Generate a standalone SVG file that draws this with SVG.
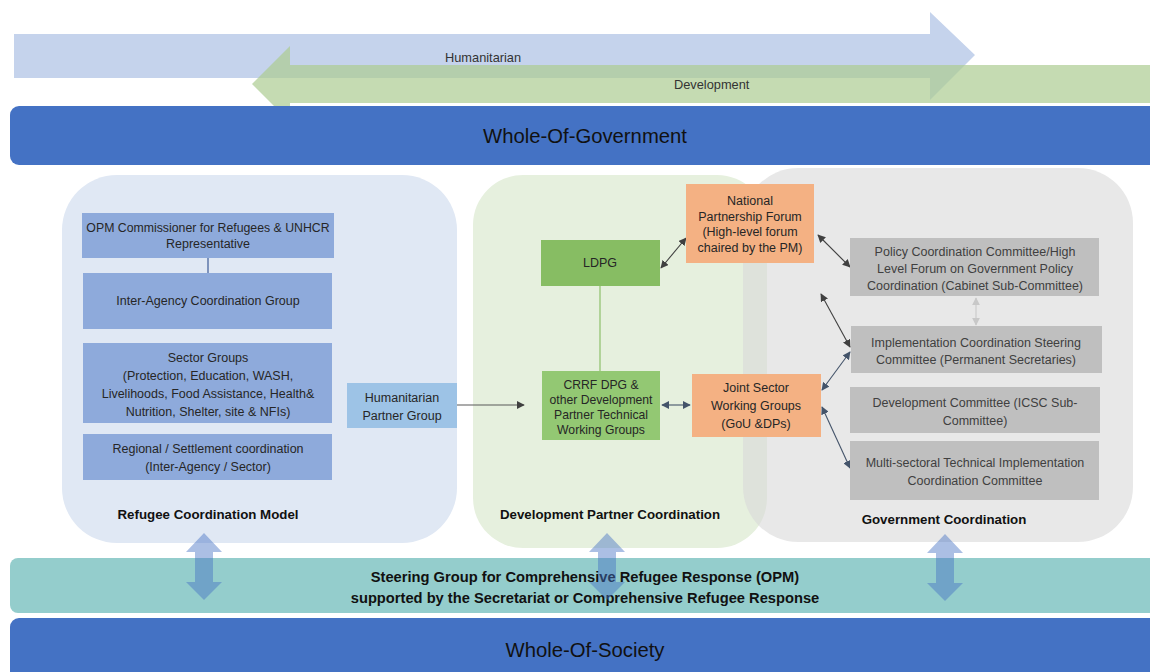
<svg xmlns="http://www.w3.org/2000/svg" width="1150" height="672" viewBox="0 0 1150 672">
<defs>
<style>
text{font-family:"Liberation Sans",Arial,sans-serif;text-anchor:middle;fill:#262626;font-size:12.5px}
.b{font-weight:bold;fill:#111;font-size:13.3px}
.big{font-size:20.3px;fill:#111}
.band{font-size:12.8px;text-anchor:start;fill:#333}
.g text{fill:#404040}
.blue{fill:#8eaadb}
.grey{fill:#bfbfbf}
.orange{fill:#f4b183}
.cn{fill:none;stroke-width:1.1}
</style>
<marker id="ad" viewBox="0 0 10 10" refX="9" refY="5" markerWidth="8" markerHeight="8" orient="auto-start-reverse" markerUnits="userSpaceOnUse"><path d="M0,0 L10,5 L0,10 z" fill="#404040"/></marker>
<marker id="ab" viewBox="0 0 10 10" refX="9" refY="5" markerWidth="8" markerHeight="8" orient="auto-start-reverse" markerUnits="userSpaceOnUse"><path d="M0,0 L10,5 L0,10 z" fill="#44546a"/></marker>
<marker id="ag" viewBox="0 0 10 10" refX="9" refY="5" markerWidth="8" markerHeight="8" orient="auto-start-reverse" markerUnits="userSpaceOnUse"><path d="M0,0 L10,5 L0,10 z" fill="#c8c8c8"/></marker>
<path id="dbl" d="M0,0 L18,19 L9,19 L9,49 L18,49 L0,67 L-18,49 L-9,49 L-9,19 L-18,19 z" fill="#4472c4" fill-opacity="0.45"/>
</defs>

<g id="bands">
<polygon points="14,34 930,34 930,12 975,55 930,100 930,78 14,78" fill="#c5d3ec"/>
<polygon points="1160,65 290,65 290,46 252,84 290,122 290,103 1160,103" fill="rgb(172,204,146)" fill-opacity="0.7"/>
<text class="band" x="445" y="62">Humanitarian</text>
<text class="band" x="674" y="89">Development</text>
</g>

<g id="whole-of-government">
<rect x="10" y="106" width="1160" height="59" rx="9" fill="#4472c4"/>
<text class="big" x="585" y="143">Whole-Of-Government</text>
</g>

<g id="panels">
<rect x="62" y="175" width="395" height="368" rx="55" fill="#e0e8f4"/>
<rect x="473" y="175" width="294" height="373" rx="50" fill="#e6f0de"/>
<rect x="743" y="168" width="390" height="374" rx="55" fill="#d9d9d9" fill-opacity="0.6"/>
<text class="b" x="208" y="519">Refugee Coordination Model</text>
<text class="b" x="610" y="519">Development Partner Coordination</text>
<text class="b" x="944" y="524">Government Coordination</text>
</g>

<g id="connectors">
<line x1="208" y1="258" x2="208" y2="273" stroke="#3b5a96" stroke-width="1.2"/>
<line x1="600" y1="286" x2="600" y2="371" stroke="#8dc06a" stroke-width="1.2"/>
<line class="cn" x1="457" y1="405" x2="524" y2="405" stroke="#595959" marker-end="url(#ad)"/>
<line class="cn" x1="661" y1="268" x2="686" y2="238" stroke="#404040" marker-start="url(#ad)" marker-end="url(#ad)"/>
<line class="cn" x1="662" y1="405" x2="690" y2="405" stroke="#44546a" marker-start="url(#ab)" marker-end="url(#ab)"/>
<line class="cn" x1="818" y1="235" x2="850" y2="267" stroke="#404040" marker-start="url(#ad)" marker-end="url(#ad)"/>
<line class="cn" x1="821" y1="294" x2="850" y2="347" stroke="#404040" marker-start="url(#ad)" marker-end="url(#ad)"/>
<line class="cn" x1="822" y1="390" x2="850" y2="352" stroke="#44546a" marker-start="url(#ab)" marker-end="url(#ab)"/>
<line class="cn" x1="822" y1="407" x2="850" y2="468" stroke="#44546a" marker-start="url(#ab)" marker-end="url(#ab)"/>
<line class="cn" x1="976" y1="298" x2="976" y2="325" stroke="#c8c8c8" marker-start="url(#ag)" marker-end="url(#ag)"/>
</g>

<g id="opm">
<rect class="blue" x="82" y="213" width="252" height="45"/>
<text x="208" y="232" style="font-size:12.3px">OPM Commissioner for Refugees &amp; UNHCR</text>
<text x="208" y="248">Representative</text>
</g>
<g id="inter-agency">
<rect class="blue" x="83" y="273" width="249" height="56"/>
<text x="208" y="305">Inter-Agency Coordination Group</text>
</g>
<g id="sector-groups">
<rect class="blue" x="83" y="343" width="249" height="80"/>
<text x="208" y="362">Sector Groups</text>
<text x="208" y="380">(Protection, Education, WASH,</text>
<text x="208" y="398">Livelihoods, Food Assistance, Health&amp;</text>
<text x="208" y="416">Nutrition, Shelter, site &amp; NFIs)</text>
</g>
<g id="regional">
<rect class="blue" x="83" y="434" width="249" height="46"/>
<text x="208" y="453">Regional / Settlement coordination</text>
<text x="208" y="471">(Inter-Agency / Sector)</text>
</g>
<g id="humanitarian-partner">
<rect x="347" y="383" width="110" height="45" fill="#9dc3e6"/>
<text x="402" y="402">Humanitarian</text>
<text x="402" y="420">Partner Group</text>
</g>

<g id="ldpg">
<rect x="541" y="240" width="119" height="46" fill="#87bd63"/>
<text x="600" y="267">LDPG</text>
</g>
<g id="crrf">
<rect x="542" y="371" width="118" height="69" fill="#93c873"/>
<text x="601" y="389" style="font-size:12.2px">CRRF DPG &amp;</text>
<text x="601" y="404" style="font-size:12.2px">other Development</text>
<text x="601" y="419" style="font-size:12.2px">Partner Technical</text>
<text x="601" y="434" style="font-size:12.2px">Working Groups</text>
</g>
<g id="national-partnership">
<rect class="orange" x="686" y="184" width="128" height="79"/>
<text x="750" y="205">National</text>
<text x="750" y="221">Partnership Forum</text>
<text x="750" y="236">(High-level forum</text>
<text x="750" y="252">chaired by the PM)</text>
</g>
<g id="joint-sector">
<rect class="orange" x="692" y="374" width="129" height="63"/>
<text x="756" y="392">Joint Sector</text>
<text x="756" y="410">Working Groups</text>
<text x="756" y="428">(GoU &amp;DPs)</text>
</g>

<g id="policy" class="g">
<rect class="grey" x="850" y="238" width="249" height="58"/>
<text x="975" y="256">Policy Coordination Committee/High</text>
<text x="975" y="273">Level Forum on Government Policy</text>
<text x="975" y="290">Coordination (Cabinet Sub-Committee)</text>
</g>
<g id="implementation" class="g">
<rect class="grey" x="851" y="326" width="251" height="47"/>
<text x="976" y="347">Implementation Coordination Steering</text>
<text x="976" y="364">Committee (Permanent Secretaries)</text>
</g>
<g id="development-committee" class="g">
<rect class="grey" x="850" y="387" width="250" height="46"/>
<text x="975" y="407">Development Committee (ICSC Sub-</text>
<text x="975" y="425">Committee)</text>
</g>
<g id="multi-sectoral" class="g">
<rect class="grey" x="850" y="441" width="249" height="59"/>
<text x="975" y="467">Multi-sectoral Technical Implementation</text>
<text x="975" y="485">Coordination Committee</text>
</g>

<g id="steering">
<rect x="10" y="558" width="1160" height="55" rx="8" fill="#94cdcc"/>
<text class="b" x="585" y="582" style="font-size:14.7px">Steering Group for Comprehensive Refugee Response (OPM)</text>
<text class="b" x="585" y="603" style="font-size:14.7px">supported by the Secretariat or Comprehensive Refugee Response</text>
</g>

<g id="whole-of-society">
<rect x="10" y="618" width="1160" height="70" rx="9" fill="#4472c4"/>
<text class="big" x="585" y="657">Whole-Of-Society</text>
</g>

<g id="block-arrows">
<use href="#dbl" x="204" y="533"/>
<use href="#dbl" x="607" y="533"/>
<use href="#dbl" x="945" y="534"/>
</g>
</svg>
